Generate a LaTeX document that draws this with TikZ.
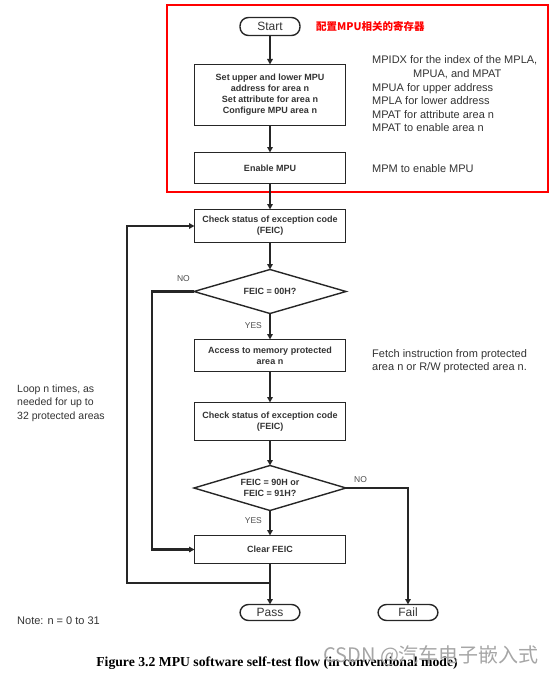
\documentclass[tikz,border=0pt]{standalone}
\usepackage{fontspec}
\setmainfont{Liberation Sans}
\newfontfamily\capfont{Liberation Serif}
\newfontfamily\cjkfont{Noto Sans CJK SC}
\usetikzlibrary{arrows.meta,positioning,shapes.geometric,calc}

\begin{document}
\begin{tikzpicture}[
  x=1pt, y=-1pt,
  box/.style={draw=black!85, line width=1.4pt, outer sep=0pt, align=center, minimum width=151pt, inner sep=2pt, text=black!80, font=\bfseries\fontsize{9}{11}\selectfont},
  term/.style={draw=black!85, line width=1.4pt, outer sep=0pt, rounded corners=8.5pt, minimum width=60pt, minimum height=18pt, inner sep=0pt, text=black!80, font=\fontsize{12}{13}\selectfont},
  decide/.style={draw=black!85, diamond, aspect=3.4, line width=1.4pt, outer sep=0pt, minimum width=152pt, inner sep=0pt, align=center, text=black!80, font=\bfseries\fontsize{9}{11}\selectfont},
  note/.style={anchor=west, align=left, inner sep=0pt, text=black!80, font=\fontsize{11}{13.6}\selectfont},
  tag/.style={inner sep=0pt, text=black!70, font=\fontsize{8.5}{9}\selectfont},
  flow/.style={->, draw=black!85, line width=2.3pt},
  >={Triangle[length=5.5pt,width=5.5pt]}
]
\useasboundingbox (0,0) rectangle (551,674);

% main column
\node[term] (start) at (270,26.5) {Start};
\node[box, minimum height=61pt, below=29pt of start] (setmpu) {Set upper and lower MPU\\address for area n\\Set attribute for area n\\Configure MPU area n};
\node[box, minimum height=31pt, below=27pt of setmpu] (enmpu) {Enable MPU};
\node[box, minimum height=33pt, below=26pt of enmpu] (chk1) {Check status of exception code\\(FEIC)};
\node[decide, minimum height=44pt, below=27pt of chk1] (dec1) {FEIC = 00H?};
\node[box, minimum height=32pt, below=26pt of dec1] (access) {Access to memory protected\\area n};
\node[box, minimum height=38pt, below=31pt of access] (chk2) {Check status of exception code\\(FEIC)};
\node[decide, minimum height=45pt, below=25pt of chk2] (dec2) {FEIC = 90H or\\FEIC = 91H?};
\node[box, minimum height=28pt, below=25pt of dec2] (clear) {Clear FEIC};
\node[term, minimum height=16pt, below=41pt of clear] (pass) {Pass};
\node[term, minimum height=16pt] (fail) at (pass -| 408,0) {Fail};

% register setup frame
\draw[red, line width=1.8pt] (167,5) rectangle (548,192);
\node[anchor=west, inner sep=0pt, text=red, font=\cjkfont\bfseries\fontsize{10.5}{12}\selectfont] (cfg) at (316,26) {配置MPU相关的寄存器};

% side notes
\node[note] (regs) at (372,94) {MPIDX for the index of the MPLA,\\\hspace*{41pt}MPUA, and MPAT\\MPUA for upper address\\MPLA for lower address\\MPAT for attribute area n\\MPAT to enable area n};
\node[note] (mpm) at (372,169) {MPM to enable MPU};
\node[note] (fetch) at (372,361) {Fetch instruction from protected\\area n or R/W protected area n.};
\node[note, font=\fontsize{10.5}{13.6}\selectfont] (loop) at (17,403) {Loop n times, as\\needed for up to\\32 protected areas};
\node[note] (remark) at (17,621) {Note: n = 0 to 31};

% connectors
\draw[flow] (start) -- (setmpu);
\draw[flow] (setmpu) -- (enmpu);
\draw[flow] (enmpu) -- (chk1);
\draw[flow] (chk1) -- (dec1);
\draw[flow] (dec1) -- node[tag, pos=0.45, left=7pt] (yes1) {YES} (access);
\draw[flow] (access) -- (chk2);
\draw[flow] (chk2) -- (dec2);
\draw[flow] (dec2) -- node[tag, pos=0.4, left=7pt] (yes2) {YES} (clear);
\draw[flow] (clear) -- (pass);
\draw[flow] (dec2.east) -| (fail.north);
\node[tag, above right=5pt and 8pt of dec2.east] (no2) {NO};
\coordinate (innerx) at (152,400);
\draw[flow] (dec1.west) -| (innerx) |- (clear.west);
\node[tag, above left=10pt and 4pt of dec1.west] (no1) {NO};
\coordinate (jn) at ($(clear.south)!0.48!(pass.north)$);
\coordinate (outerx) at (127,400);
\draw[flow] (jn) -| (outerx) |- (chk1.west);

% caption and watermark
\node[inner sep=0pt, font=\capfont\bfseries\fontsize{13.7}{15}\selectfont] (caption) at (277,663) {Figure 3.2 MPU software self-test flow (in conventional mode)};
\node[anchor=west, inner sep=0pt, text=black!35, font=\cjkfont\fontsize{20}{22}\selectfont] (mark) at (323,656) {CSDN @汽车电子嵌入式};
\end{tikzpicture}
\end{document}
